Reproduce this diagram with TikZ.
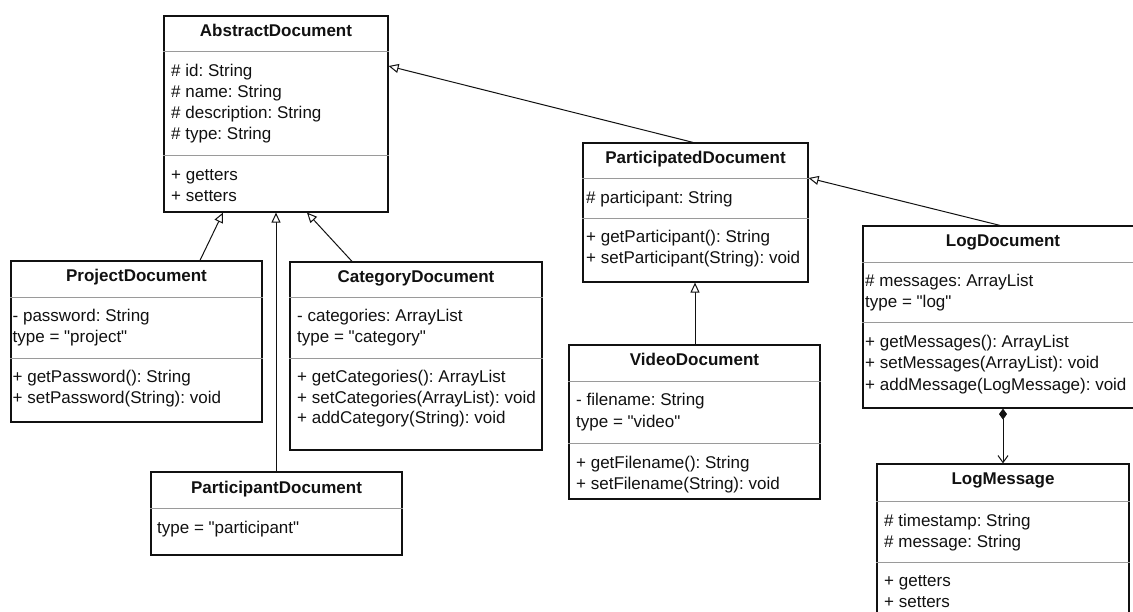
\documentclass[tikz,border=0pt]{standalone}
\usepackage{fontspec}
\setmainfont{Liberation Sans}[Ligatures=TeXOff]
\usetikzlibrary{arrows.meta}
\frenchspacing

% one UML class box: name, x1, y1, x2, y2 (pixel-like units, y downwards)
\newcommand\umlbox[5]{%
  \node[cls, minimum width={#4-#2}, minimum height={#5-#3}] (#1)
    at ({(#2+#4)/2},{(#3+#5)/2}) {};}
% horizontal compartment rule inside a box at height y
\newcommand\umlrule[2]{%
  \draw[seprule] (#1.west |- 0,#2) -- (#1.east |- 0,#2);}
% member lines: name prefix, x, first baseline, list of entries
\newcommand\memberlines[4]{%
  \foreach \mtext [count=\k] in {#4} {
    \node[member] (#1-\k) at (#2, {#3+21*(\k-1)}) {\mtext};
  }}

\definecolor{ink}{HTML}{111111}
\definecolor{rulegray}{HTML}{9A9A9A}

\begin{document}
\begin{tikzpicture}[x=1pt, y=-1pt,
  cls/.style={draw=ink, line width=1.2pt, fill=white, rectangle, inner sep=0pt},
  seprule/.style={draw=rulegray, line width=1pt},
  title/.style={anchor=base, inner sep=0pt, text=ink,
    font=\fontsize{17}{21}\selectfont\bfseries},
  member/.style={anchor=base west, inner sep=0pt, text=ink,
    font=\fontsize{17}{21}\selectfont},
  gen/.style={draw=ink, line width=1pt,
    -{Triangle[open, length=10pt, width=9pt, fill=white]}},
  comp/.style={draw=ink, line width=1pt,
    {Diamond[length=11pt, width=8pt]}-{Straight Barb[length=7pt, width=10pt]}}]

\useasboundingbox (0,0) rectangle (1133,612);
\clip (0,0) rectangle (1133,612);
\fill[white] (0,0) rectangle (1133,612);

% AbstractDocument
\umlbox{abs}{164}{16}{388}{212}
\umlrule{abs}{52}\umlrule{abs}{156}
\node[title] (abs-t) at (276,37) {AbstractDocument};
\memberlines{absa}{171}{77}{{\# id: String},{\# name: String},{\# description: String},{\# type: String}}
\memberlines{absm}{171}{181}{{+ getters},{+ setters}}

% ProjectDocument
\umlbox{proj}{11}{261}{262}{422}
\umlrule{proj}{298}\umlrule{proj}{359}
\node[title] (proj-t) at (136.5,282) {ProjectDocument};
\memberlines{proja}{12.5}{322}{{- password: String},{type = "project"}}
\memberlines{projm}{12.5}{382}{{+ getPassword(): String},{+ setPassword(String): void}}

% CategoryDocument
\umlbox{cat}{290}{262}{542}{450}
\umlrule{cat}{298}\umlrule{cat}{359}
\node[title] (cat-t) at (416,283) {CategoryDocument};
\memberlines{cata}{297}{322}{{- categories: ArrayList},{type = "category"}}
\memberlines{catm}{297}{382}{{+ getCategories(): ArrayList},{+ setCategories(ArrayList): void},{+ addCategory(String): void}}

% ParticipantDocument
\umlbox{ptcp}{151}{472}{402}{555}
\umlrule{ptcp}{508}
\node[title] (ptcp-t) at (276.5,493) {ParticipantDocument};
\memberlines{ptcpa}{157}{533}{{type = "participant"}}

% ParticipatedDocument
\umlbox{part}{583}{143}{808}{282}
\umlrule{part}{179}\umlrule{part}{219}
\node[title] (part-t) at (695.5,164) {ParticipatedDocument};
\memberlines{parta}{586}{204}{{\# participant: String}}
\memberlines{partm}{586}{243}{{+ getParticipant(): String},{+ setParticipant(String): void}}

% VideoDocument
\umlbox{video}{569}{345}{820}{499}
\umlrule{video}{382}\umlrule{video}{443}
\node[title] (video-t) at (694.5,366) {VideoDocument};
\memberlines{videoa}{576}{406}{{- filename: String},{type = "video"}}
\memberlines{videom}{576}{468}{{+ getFilename(): String},{+ setFilename(String): void}}

% LogDocument
\umlbox{logd}{863}{226}{1145}{408}
\umlrule{logd}{263}\umlrule{logd}{323}
\node[title] (logd-t) at (1003,247) {LogDocument};
\memberlines{logda}{865}{287}{{\# messages: ArrayList},{type = "log"}}
\memberlines{logdm}{865}{348}{{+ getMessages(): ArrayList},{+ setMessages(ArrayList): void},{+ addMessage(LogMessage): void}}

% LogMessage
\umlbox{logm}{877}{464}{1129}{625}
\umlrule{logm}{501}\umlrule{logm}{562}
\node[title] (logm-t) at (1003,484) {LogMessage};
\memberlines{logma}{884}{526}{{\# timestamp: String},{\# message: String}}
\memberlines{logmm}{884}{586}{{+ getters},{+ setters}}

% generalisations
\draw[gen] (proj.north -| 200,0) -- (abs.south -| 223,0);
\draw[gen] (ptcp.north -| 276,0) -- (abs.south -| 276,0);
\draw[gen] (cat.north -| 352,0) -- (abs.south -| 307,0);
\draw[gen] (part.north -| 693,0) -- (abs.east |- 0,66);
\draw[gen] (logd.north -| 1000,0) -- (part.east |- 0,178);
\draw[gen] (video.north -| 695,0) -- (part.south -| 695,0);

% composition
\draw[comp] (logd.south -| 1003,0) -- (logm.north -| 1003,0);
\end{tikzpicture}
\end{document}
